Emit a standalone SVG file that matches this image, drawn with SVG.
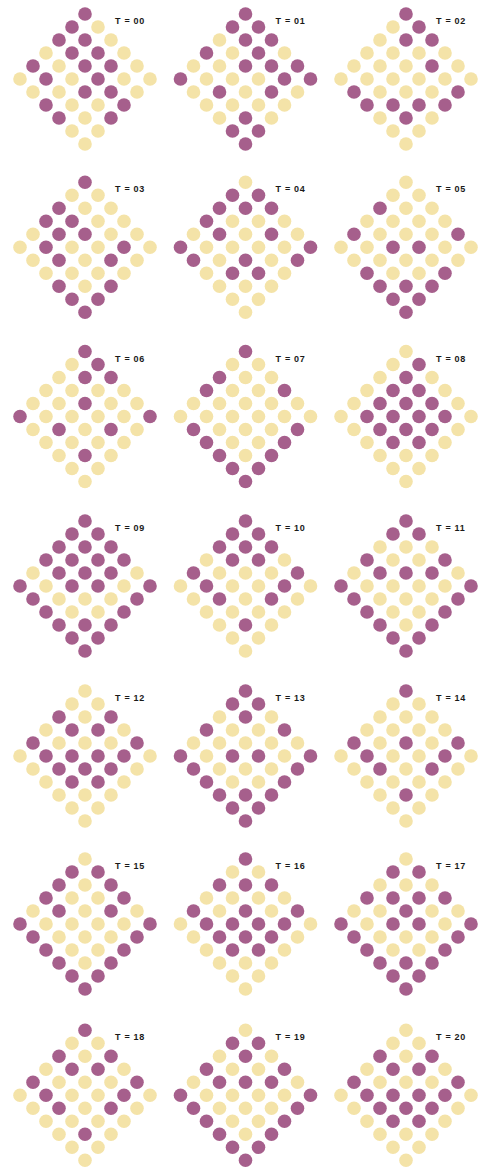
<svg xmlns="http://www.w3.org/2000/svg" xmlns:xlink="http://www.w3.org/1999/xlink" width="484" height="1169" viewBox="0 0 484 1169">
<style>
text{font-family:"Liberation Sans",Arial,sans-serif;font-size:9px;font-weight:bold;fill:#1a1a1a;letter-spacing:0.7px}
</style>
<defs>
<circle id="p" r="6.8" fill="#a65f8c"/>
<circle id="y" r="6.8" fill="#f4e3a8"/>
</defs>
<rect width="484" height="1169" fill="#fff"/>

<g id="t00" transform="translate(85,14)">
<use href="#p"/>
<use href="#p" x="-13" y="13"/><use href="#y" x="13" y="13"/>
<use href="#p" x="-26" y="26"/><use href="#p" x="0" y="26"/><use href="#y" x="26" y="26"/>
<use href="#y" x="-39" y="39"/><use href="#p" x="-13" y="39"/><use href="#p" x="13" y="39"/><use href="#y" x="39" y="39"/>
<use href="#p" x="-52" y="52"/><use href="#y" x="-26" y="52"/><use href="#p" x="0" y="52"/><use href="#p" x="26" y="52"/><use href="#y" x="52" y="52"/>
<use href="#y" x="-65" y="65"/><use href="#p" x="-39" y="65"/><use href="#y" x="-13" y="65"/><use href="#p" x="13" y="65"/><use href="#y" x="39" y="65"/><use href="#y" x="65" y="65"/>
<use href="#y" x="-52" y="78"/><use href="#y" x="-26" y="78"/><use href="#p" x="0" y="78"/><use href="#p" x="26" y="78"/><use href="#y" x="52" y="78"/>
<use href="#p" x="-39" y="91"/><use href="#y" x="-13" y="91"/><use href="#y" x="13" y="91"/><use href="#p" x="39" y="91"/>
<use href="#p" x="-26" y="104"/><use href="#y" x="0" y="104"/><use href="#p" x="26" y="104"/>
<use href="#y" x="-13" y="117"/><use href="#y" x="13" y="117"/>
<use href="#y" x="0" y="130"/>
<text x="30" y="10">T = 00</text>
</g>

<g id="t01" transform="translate(245.5,14)">
<use href="#p"/>
<use href="#p" x="-13" y="13"/><use href="#p" x="13" y="13"/>
<use href="#y" x="-26" y="26"/><use href="#p" x="0" y="26"/><use href="#p" x="26" y="26"/>
<use href="#p" x="-39" y="39"/><use href="#y" x="-13" y="39"/><use href="#p" x="13" y="39"/><use href="#y" x="39" y="39"/>
<use href="#y" x="-52" y="52"/><use href="#y" x="-26" y="52"/><use href="#p" x="0" y="52"/><use href="#p" x="26" y="52"/><use href="#p" x="52" y="52"/>
<use href="#p" x="-65" y="65"/><use href="#y" x="-39" y="65"/><use href="#y" x="-13" y="65"/><use href="#y" x="13" y="65"/><use href="#p" x="39" y="65"/><use href="#p" x="65" y="65"/>
<use href="#y" x="-52" y="78"/><use href="#p" x="-26" y="78"/><use href="#y" x="0" y="78"/><use href="#p" x="26" y="78"/><use href="#y" x="52" y="78"/>
<use href="#y" x="-39" y="91"/><use href="#y" x="-13" y="91"/><use href="#y" x="13" y="91"/><use href="#y" x="39" y="91"/>
<use href="#y" x="-26" y="104"/><use href="#p" x="0" y="104"/><use href="#y" x="26" y="104"/>
<use href="#p" x="-13" y="117"/><use href="#p" x="13" y="117"/>
<use href="#p" x="0" y="130"/>
<text x="30" y="10">T = 01</text>
</g>

<g id="t02" transform="translate(406,14)">
<use href="#p"/>
<use href="#y" x="-13" y="13"/><use href="#p" x="13" y="13"/>
<use href="#y" x="-26" y="26"/><use href="#p" x="0" y="26"/><use href="#p" x="26" y="26"/>
<use href="#y" x="-39" y="39"/><use href="#y" x="-13" y="39"/><use href="#y" x="13" y="39"/><use href="#y" x="39" y="39"/>
<use href="#y" x="-52" y="52"/><use href="#y" x="-26" y="52"/><use href="#y" x="0" y="52"/><use href="#p" x="26" y="52"/><use href="#y" x="52" y="52"/>
<use href="#y" x="-65" y="65"/><use href="#y" x="-39" y="65"/><use href="#y" x="-13" y="65"/><use href="#y" x="13" y="65"/><use href="#y" x="39" y="65"/><use href="#y" x="65" y="65"/>
<use href="#p" x="-52" y="78"/><use href="#y" x="-26" y="78"/><use href="#y" x="0" y="78"/><use href="#y" x="26" y="78"/><use href="#p" x="52" y="78"/>
<use href="#p" x="-39" y="91"/><use href="#p" x="-13" y="91"/><use href="#p" x="13" y="91"/><use href="#p" x="39" y="91"/>
<use href="#y" x="-26" y="104"/><use href="#p" x="0" y="104"/><use href="#y" x="26" y="104"/>
<use href="#y" x="-13" y="117"/><use href="#y" x="13" y="117"/>
<use href="#y" x="0" y="130"/>
<text x="30" y="10">T = 02</text>
</g>

<g id="t03" transform="translate(85,182.3)">
<use href="#p"/>
<use href="#y" x="-13" y="13"/><use href="#y" x="13" y="13"/>
<use href="#p" x="-26" y="26"/><use href="#y" x="0" y="26"/><use href="#y" x="26" y="26"/>
<use href="#p" x="-39" y="39"/><use href="#p" x="-13" y="39"/><use href="#y" x="13" y="39"/><use href="#y" x="39" y="39"/>
<use href="#y" x="-52" y="52"/><use href="#p" x="-26" y="52"/><use href="#p" x="0" y="52"/><use href="#y" x="26" y="52"/><use href="#y" x="52" y="52"/>
<use href="#y" x="-65" y="65"/><use href="#p" x="-39" y="65"/><use href="#y" x="-13" y="65"/><use href="#y" x="13" y="65"/><use href="#p" x="39" y="65"/><use href="#y" x="65" y="65"/>
<use href="#y" x="-52" y="78"/><use href="#p" x="-26" y="78"/><use href="#y" x="0" y="78"/><use href="#p" x="26" y="78"/><use href="#y" x="52" y="78"/>
<use href="#y" x="-39" y="91"/><use href="#y" x="-13" y="91"/><use href="#y" x="13" y="91"/><use href="#y" x="39" y="91"/>
<use href="#p" x="-26" y="104"/><use href="#y" x="0" y="104"/><use href="#p" x="26" y="104"/>
<use href="#p" x="-13" y="117"/><use href="#p" x="13" y="117"/>
<use href="#p" x="0" y="130"/>
<text x="30" y="10">T = 03</text>
</g>

<g id="t04" transform="translate(245.5,182.3)">
<use href="#y"/>
<use href="#p" x="-13" y="13"/><use href="#p" x="13" y="13"/>
<use href="#p" x="-26" y="26"/><use href="#p" x="0" y="26"/><use href="#p" x="26" y="26"/>
<use href="#p" x="-39" y="39"/><use href="#y" x="-13" y="39"/><use href="#y" x="13" y="39"/><use href="#y" x="39" y="39"/>
<use href="#y" x="-52" y="52"/><use href="#p" x="-26" y="52"/><use href="#y" x="0" y="52"/><use href="#p" x="26" y="52"/><use href="#y" x="52" y="52"/>
<use href="#p" x="-65" y="65"/><use href="#y" x="-39" y="65"/><use href="#y" x="-13" y="65"/><use href="#y" x="13" y="65"/><use href="#y" x="39" y="65"/><use href="#p" x="65" y="65"/>
<use href="#p" x="-52" y="78"/><use href="#y" x="-26" y="78"/><use href="#p" x="0" y="78"/><use href="#y" x="26" y="78"/><use href="#p" x="52" y="78"/>
<use href="#y" x="-39" y="91"/><use href="#p" x="-13" y="91"/><use href="#p" x="13" y="91"/><use href="#y" x="39" y="91"/>
<use href="#y" x="-26" y="104"/><use href="#y" x="0" y="104"/><use href="#y" x="26" y="104"/>
<use href="#y" x="-13" y="117"/><use href="#y" x="13" y="117"/>
<use href="#y" x="0" y="130"/>
<text x="30" y="10">T = 04</text>
</g>

<g id="t05" transform="translate(406,182.3)">
<use href="#y"/>
<use href="#y" x="-13" y="13"/><use href="#y" x="13" y="13"/>
<use href="#p" x="-26" y="26"/><use href="#y" x="0" y="26"/><use href="#y" x="26" y="26"/>
<use href="#y" x="-39" y="39"/><use href="#y" x="-13" y="39"/><use href="#y" x="13" y="39"/><use href="#y" x="39" y="39"/>
<use href="#p" x="-52" y="52"/><use href="#y" x="-26" y="52"/><use href="#y" x="0" y="52"/><use href="#y" x="26" y="52"/><use href="#p" x="52" y="52"/>
<use href="#y" x="-65" y="65"/><use href="#y" x="-39" y="65"/><use href="#p" x="-13" y="65"/><use href="#p" x="13" y="65"/><use href="#y" x="39" y="65"/><use href="#y" x="65" y="65"/>
<use href="#y" x="-52" y="78"/><use href="#y" x="-26" y="78"/><use href="#y" x="0" y="78"/><use href="#y" x="26" y="78"/><use href="#y" x="52" y="78"/>
<use href="#p" x="-39" y="91"/><use href="#y" x="-13" y="91"/><use href="#y" x="13" y="91"/><use href="#p" x="39" y="91"/>
<use href="#p" x="-26" y="104"/><use href="#p" x="0" y="104"/><use href="#p" x="26" y="104"/>
<use href="#p" x="-13" y="117"/><use href="#p" x="13" y="117"/>
<use href="#p" x="0" y="130"/>
<text x="30" y="10">T = 05</text>
</g>

<g id="t06" transform="translate(85,351.5)">
<use href="#p"/>
<use href="#y" x="-13" y="13"/><use href="#p" x="13" y="13"/>
<use href="#y" x="-26" y="26"/><use href="#p" x="0" y="26"/><use href="#p" x="26" y="26"/>
<use href="#y" x="-39" y="39"/><use href="#y" x="-13" y="39"/><use href="#y" x="13" y="39"/><use href="#y" x="39" y="39"/>
<use href="#y" x="-52" y="52"/><use href="#y" x="-26" y="52"/><use href="#p" x="0" y="52"/><use href="#y" x="26" y="52"/><use href="#y" x="52" y="52"/>
<use href="#p" x="-65" y="65"/><use href="#y" x="-39" y="65"/><use href="#y" x="-13" y="65"/><use href="#y" x="13" y="65"/><use href="#y" x="39" y="65"/><use href="#p" x="65" y="65"/>
<use href="#y" x="-52" y="78"/><use href="#p" x="-26" y="78"/><use href="#y" x="0" y="78"/><use href="#p" x="26" y="78"/><use href="#y" x="52" y="78"/>
<use href="#y" x="-39" y="91"/><use href="#y" x="-13" y="91"/><use href="#y" x="13" y="91"/><use href="#y" x="39" y="91"/>
<use href="#y" x="-26" y="104"/><use href="#p" x="0" y="104"/><use href="#y" x="26" y="104"/>
<use href="#y" x="-13" y="117"/><use href="#y" x="13" y="117"/>
<use href="#y" x="0" y="130"/>
<text x="30" y="10">T = 06</text>
</g>

<g id="t07" transform="translate(245.5,351.5)">
<use href="#p"/>
<use href="#y" x="-13" y="13"/><use href="#y" x="13" y="13"/>
<use href="#p" x="-26" y="26"/><use href="#y" x="0" y="26"/><use href="#y" x="26" y="26"/>
<use href="#p" x="-39" y="39"/><use href="#y" x="-13" y="39"/><use href="#y" x="13" y="39"/><use href="#p" x="39" y="39"/>
<use href="#y" x="-52" y="52"/><use href="#y" x="-26" y="52"/><use href="#y" x="0" y="52"/><use href="#y" x="26" y="52"/><use href="#y" x="52" y="52"/>
<use href="#y" x="-65" y="65"/><use href="#y" x="-39" y="65"/><use href="#y" x="-13" y="65"/><use href="#y" x="13" y="65"/><use href="#y" x="39" y="65"/><use href="#y" x="65" y="65"/>
<use href="#p" x="-52" y="78"/><use href="#y" x="-26" y="78"/><use href="#y" x="0" y="78"/><use href="#y" x="26" y="78"/><use href="#p" x="52" y="78"/>
<use href="#p" x="-39" y="91"/><use href="#y" x="-13" y="91"/><use href="#y" x="13" y="91"/><use href="#p" x="39" y="91"/>
<use href="#p" x="-26" y="104"/><use href="#y" x="0" y="104"/><use href="#p" x="26" y="104"/>
<use href="#p" x="-13" y="117"/><use href="#p" x="13" y="117"/>
<use href="#p" x="0" y="130"/>
<text x="30" y="10">T = 07</text>
</g>

<g id="t08" transform="translate(406,351.5)">
<use href="#y"/>
<use href="#y" x="-13" y="13"/><use href="#p" x="13" y="13"/>
<use href="#y" x="-26" y="26"/><use href="#p" x="0" y="26"/><use href="#y" x="26" y="26"/>
<use href="#y" x="-39" y="39"/><use href="#p" x="-13" y="39"/><use href="#p" x="13" y="39"/><use href="#y" x="39" y="39"/>
<use href="#y" x="-52" y="52"/><use href="#p" x="-26" y="52"/><use href="#p" x="0" y="52"/><use href="#p" x="26" y="52"/><use href="#y" x="52" y="52"/>
<use href="#y" x="-65" y="65"/><use href="#p" x="-39" y="65"/><use href="#p" x="-13" y="65"/><use href="#p" x="13" y="65"/><use href="#p" x="39" y="65"/><use href="#y" x="65" y="65"/>
<use href="#y" x="-52" y="78"/><use href="#p" x="-26" y="78"/><use href="#p" x="0" y="78"/><use href="#p" x="26" y="78"/><use href="#y" x="52" y="78"/>
<use href="#y" x="-39" y="91"/><use href="#p" x="-13" y="91"/><use href="#p" x="13" y="91"/><use href="#y" x="39" y="91"/>
<use href="#y" x="-26" y="104"/><use href="#y" x="0" y="104"/><use href="#y" x="26" y="104"/>
<use href="#y" x="-13" y="117"/><use href="#y" x="13" y="117"/>
<use href="#y" x="0" y="130"/>
<text x="30" y="10">T = 08</text>
</g>

<g id="t09" transform="translate(85,521)">
<use href="#p"/>
<use href="#p" x="-13" y="13"/><use href="#p" x="13" y="13"/>
<use href="#p" x="-26" y="26"/><use href="#p" x="0" y="26"/><use href="#p" x="26" y="26"/>
<use href="#p" x="-39" y="39"/><use href="#p" x="-13" y="39"/><use href="#p" x="13" y="39"/><use href="#p" x="39" y="39"/>
<use href="#y" x="-52" y="52"/><use href="#p" x="-26" y="52"/><use href="#p" x="0" y="52"/><use href="#p" x="26" y="52"/><use href="#y" x="52" y="52"/>
<use href="#p" x="-65" y="65"/><use href="#y" x="-39" y="65"/><use href="#p" x="-13" y="65"/><use href="#p" x="13" y="65"/><use href="#y" x="39" y="65"/><use href="#p" x="65" y="65"/>
<use href="#p" x="-52" y="78"/><use href="#y" x="-26" y="78"/><use href="#y" x="0" y="78"/><use href="#y" x="26" y="78"/><use href="#p" x="52" y="78"/>
<use href="#p" x="-39" y="91"/><use href="#y" x="-13" y="91"/><use href="#y" x="13" y="91"/><use href="#p" x="39" y="91"/>
<use href="#p" x="-26" y="104"/><use href="#p" x="0" y="104"/><use href="#p" x="26" y="104"/>
<use href="#p" x="-13" y="117"/><use href="#p" x="13" y="117"/>
<use href="#p" x="0" y="130"/>
<text x="30" y="10">T = 09</text>
</g>

<g id="t10" transform="translate(245.5,521)">
<use href="#p"/>
<use href="#p" x="-13" y="13"/><use href="#p" x="13" y="13"/>
<use href="#p" x="-26" y="26"/><use href="#p" x="0" y="26"/><use href="#p" x="26" y="26"/>
<use href="#y" x="-39" y="39"/><use href="#p" x="-13" y="39"/><use href="#p" x="13" y="39"/><use href="#y" x="39" y="39"/>
<use href="#p" x="-52" y="52"/><use href="#y" x="-26" y="52"/><use href="#y" x="0" y="52"/><use href="#y" x="26" y="52"/><use href="#p" x="52" y="52"/>
<use href="#y" x="-65" y="65"/><use href="#p" x="-39" y="65"/><use href="#y" x="-13" y="65"/><use href="#y" x="13" y="65"/><use href="#p" x="39" y="65"/><use href="#y" x="65" y="65"/>
<use href="#y" x="-52" y="78"/><use href="#p" x="-26" y="78"/><use href="#y" x="0" y="78"/><use href="#p" x="26" y="78"/><use href="#y" x="52" y="78"/>
<use href="#y" x="-39" y="91"/><use href="#y" x="-13" y="91"/><use href="#y" x="13" y="91"/><use href="#y" x="39" y="91"/>
<use href="#y" x="-26" y="104"/><use href="#p" x="0" y="104"/><use href="#y" x="26" y="104"/>
<use href="#y" x="-13" y="117"/><use href="#y" x="13" y="117"/>
<use href="#y" x="0" y="130"/>
<text x="30" y="10">T = 10</text>
</g>

<g id="t11" transform="translate(406,521)">
<use href="#p"/>
<use href="#p" x="-13" y="13"/><use href="#p" x="13" y="13"/>
<use href="#y" x="-26" y="26"/><use href="#y" x="0" y="26"/><use href="#y" x="26" y="26"/>
<use href="#p" x="-39" y="39"/><use href="#y" x="-13" y="39"/><use href="#y" x="13" y="39"/><use href="#p" x="39" y="39"/>
<use href="#y" x="-52" y="52"/><use href="#p" x="-26" y="52"/><use href="#p" x="0" y="52"/><use href="#p" x="26" y="52"/><use href="#y" x="52" y="52"/>
<use href="#p" x="-65" y="65"/><use href="#y" x="-39" y="65"/><use href="#y" x="-13" y="65"/><use href="#y" x="13" y="65"/><use href="#y" x="39" y="65"/><use href="#p" x="65" y="65"/>
<use href="#p" x="-52" y="78"/><use href="#y" x="-26" y="78"/><use href="#y" x="0" y="78"/><use href="#y" x="26" y="78"/><use href="#p" x="52" y="78"/>
<use href="#p" x="-39" y="91"/><use href="#y" x="-13" y="91"/><use href="#y" x="13" y="91"/><use href="#p" x="39" y="91"/>
<use href="#p" x="-26" y="104"/><use href="#y" x="0" y="104"/><use href="#p" x="26" y="104"/>
<use href="#p" x="-13" y="117"/><use href="#p" x="13" y="117"/>
<use href="#p" x="0" y="130"/>
<text x="30" y="10">T = 11</text>
</g>

<g id="t12" transform="translate(85,691)">
<use href="#y"/>
<use href="#y" x="-13" y="13"/><use href="#y" x="13" y="13"/>
<use href="#p" x="-26" y="26"/><use href="#y" x="0" y="26"/><use href="#p" x="26" y="26"/>
<use href="#y" x="-39" y="39"/><use href="#p" x="-13" y="39"/><use href="#p" x="13" y="39"/><use href="#y" x="39" y="39"/>
<use href="#p" x="-52" y="52"/><use href="#y" x="-26" y="52"/><use href="#y" x="0" y="52"/><use href="#y" x="26" y="52"/><use href="#p" x="52" y="52"/>
<use href="#y" x="-65" y="65"/><use href="#p" x="-39" y="65"/><use href="#p" x="-13" y="65"/><use href="#p" x="13" y="65"/><use href="#p" x="39" y="65"/><use href="#y" x="65" y="65"/>
<use href="#y" x="-52" y="78"/><use href="#p" x="-26" y="78"/><use href="#p" x="0" y="78"/><use href="#p" x="26" y="78"/><use href="#y" x="52" y="78"/>
<use href="#y" x="-39" y="91"/><use href="#p" x="-13" y="91"/><use href="#p" x="13" y="91"/><use href="#y" x="39" y="91"/>
<use href="#y" x="-26" y="104"/><use href="#y" x="0" y="104"/><use href="#y" x="26" y="104"/>
<use href="#y" x="-13" y="117"/><use href="#y" x="13" y="117"/>
<use href="#y" x="0" y="130"/>
<text x="30" y="10">T = 12</text>
</g>

<g id="t13" transform="translate(245.5,691)">
<use href="#p"/>
<use href="#p" x="-13" y="13"/><use href="#p" x="13" y="13"/>
<use href="#y" x="-26" y="26"/><use href="#p" x="0" y="26"/><use href="#y" x="26" y="26"/>
<use href="#p" x="-39" y="39"/><use href="#y" x="-13" y="39"/><use href="#y" x="13" y="39"/><use href="#p" x="39" y="39"/>
<use href="#y" x="-52" y="52"/><use href="#y" x="-26" y="52"/><use href="#y" x="0" y="52"/><use href="#y" x="26" y="52"/><use href="#y" x="52" y="52"/>
<use href="#p" x="-65" y="65"/><use href="#y" x="-39" y="65"/><use href="#p" x="-13" y="65"/><use href="#p" x="13" y="65"/><use href="#y" x="39" y="65"/><use href="#p" x="65" y="65"/>
<use href="#p" x="-52" y="78"/><use href="#y" x="-26" y="78"/><use href="#y" x="0" y="78"/><use href="#y" x="26" y="78"/><use href="#p" x="52" y="78"/>
<use href="#p" x="-39" y="91"/><use href="#y" x="-13" y="91"/><use href="#y" x="13" y="91"/><use href="#p" x="39" y="91"/>
<use href="#p" x="-26" y="104"/><use href="#p" x="0" y="104"/><use href="#p" x="26" y="104"/>
<use href="#p" x="-13" y="117"/><use href="#p" x="13" y="117"/>
<use href="#p" x="0" y="130"/>
<text x="30" y="10">T = 13</text>
</g>

<g id="t14" transform="translate(406,691)">
<use href="#p"/>
<use href="#y" x="-13" y="13"/><use href="#y" x="13" y="13"/>
<use href="#y" x="-26" y="26"/><use href="#y" x="0" y="26"/><use href="#y" x="26" y="26"/>
<use href="#y" x="-39" y="39"/><use href="#y" x="-13" y="39"/><use href="#y" x="13" y="39"/><use href="#y" x="39" y="39"/>
<use href="#p" x="-52" y="52"/><use href="#y" x="-26" y="52"/><use href="#p" x="0" y="52"/><use href="#y" x="26" y="52"/><use href="#p" x="52" y="52"/>
<use href="#y" x="-65" y="65"/><use href="#p" x="-39" y="65"/><use href="#y" x="-13" y="65"/><use href="#y" x="13" y="65"/><use href="#p" x="39" y="65"/><use href="#y" x="65" y="65"/>
<use href="#y" x="-52" y="78"/><use href="#p" x="-26" y="78"/><use href="#y" x="0" y="78"/><use href="#p" x="26" y="78"/><use href="#y" x="52" y="78"/>
<use href="#y" x="-39" y="91"/><use href="#y" x="-13" y="91"/><use href="#y" x="13" y="91"/><use href="#y" x="39" y="91"/>
<use href="#y" x="-26" y="104"/><use href="#p" x="0" y="104"/><use href="#y" x="26" y="104"/>
<use href="#y" x="-13" y="117"/><use href="#y" x="13" y="117"/>
<use href="#y" x="0" y="130"/>
<text x="30" y="10">T = 14</text>
</g>

<g id="t15" transform="translate(85,859)">
<use href="#y"/>
<use href="#p" x="-13" y="13"/><use href="#p" x="13" y="13"/>
<use href="#p" x="-26" y="26"/><use href="#y" x="0" y="26"/><use href="#p" x="26" y="26"/>
<use href="#p" x="-39" y="39"/><use href="#y" x="-13" y="39"/><use href="#y" x="13" y="39"/><use href="#p" x="39" y="39"/>
<use href="#y" x="-52" y="52"/><use href="#p" x="-26" y="52"/><use href="#y" x="0" y="52"/><use href="#p" x="26" y="52"/><use href="#y" x="52" y="52"/>
<use href="#p" x="-65" y="65"/><use href="#y" x="-39" y="65"/><use href="#y" x="-13" y="65"/><use href="#y" x="13" y="65"/><use href="#y" x="39" y="65"/><use href="#p" x="65" y="65"/>
<use href="#p" x="-52" y="78"/><use href="#y" x="-26" y="78"/><use href="#y" x="0" y="78"/><use href="#y" x="26" y="78"/><use href="#p" x="52" y="78"/>
<use href="#p" x="-39" y="91"/><use href="#y" x="-13" y="91"/><use href="#y" x="13" y="91"/><use href="#p" x="39" y="91"/>
<use href="#p" x="-26" y="104"/><use href="#y" x="0" y="104"/><use href="#p" x="26" y="104"/>
<use href="#p" x="-13" y="117"/><use href="#p" x="13" y="117"/>
<use href="#p" x="0" y="130"/>
<text x="30" y="10">T = 15</text>
</g>

<g id="t16" transform="translate(245.5,859)">
<use href="#p"/>
<use href="#y" x="-13" y="13"/><use href="#y" x="13" y="13"/>
<use href="#p" x="-26" y="26"/><use href="#p" x="0" y="26"/><use href="#p" x="26" y="26"/>
<use href="#y" x="-39" y="39"/><use href="#y" x="-13" y="39"/><use href="#y" x="13" y="39"/><use href="#y" x="39" y="39"/>
<use href="#p" x="-52" y="52"/><use href="#y" x="-26" y="52"/><use href="#p" x="0" y="52"/><use href="#y" x="26" y="52"/><use href="#p" x="52" y="52"/>
<use href="#y" x="-65" y="65"/><use href="#p" x="-39" y="65"/><use href="#p" x="-13" y="65"/><use href="#p" x="13" y="65"/><use href="#p" x="39" y="65"/><use href="#y" x="65" y="65"/>
<use href="#y" x="-52" y="78"/><use href="#p" x="-26" y="78"/><use href="#p" x="0" y="78"/><use href="#p" x="26" y="78"/><use href="#y" x="52" y="78"/>
<use href="#y" x="-39" y="91"/><use href="#p" x="-13" y="91"/><use href="#p" x="13" y="91"/><use href="#y" x="39" y="91"/>
<use href="#y" x="-26" y="104"/><use href="#y" x="0" y="104"/><use href="#y" x="26" y="104"/>
<use href="#y" x="-13" y="117"/><use href="#y" x="13" y="117"/>
<use href="#y" x="0" y="130"/>
<text x="30" y="10">T = 16</text>
</g>

<g id="t17" transform="translate(406,859)">
<use href="#y"/>
<use href="#p" x="-13" y="13"/><use href="#p" x="13" y="13"/>
<use href="#y" x="-26" y="26"/><use href="#y" x="0" y="26"/><use href="#y" x="26" y="26"/>
<use href="#p" x="-39" y="39"/><use href="#p" x="-13" y="39"/><use href="#p" x="13" y="39"/><use href="#p" x="39" y="39"/>
<use href="#y" x="-52" y="52"/><use href="#y" x="-26" y="52"/><use href="#p" x="0" y="52"/><use href="#y" x="26" y="52"/><use href="#y" x="52" y="52"/>
<use href="#p" x="-65" y="65"/><use href="#y" x="-39" y="65"/><use href="#p" x="-13" y="65"/><use href="#p" x="13" y="65"/><use href="#y" x="39" y="65"/><use href="#p" x="65" y="65"/>
<use href="#p" x="-52" y="78"/><use href="#y" x="-26" y="78"/><use href="#y" x="0" y="78"/><use href="#y" x="26" y="78"/><use href="#p" x="52" y="78"/>
<use href="#p" x="-39" y="91"/><use href="#y" x="-13" y="91"/><use href="#y" x="13" y="91"/><use href="#p" x="39" y="91"/>
<use href="#p" x="-26" y="104"/><use href="#p" x="0" y="104"/><use href="#p" x="26" y="104"/>
<use href="#p" x="-13" y="117"/><use href="#p" x="13" y="117"/>
<use href="#p" x="0" y="130"/>
<text x="30" y="10">T = 17</text>
</g>

<g id="t18" transform="translate(85,1030.3)">
<use href="#p"/>
<use href="#y" x="-13" y="13"/><use href="#y" x="13" y="13"/>
<use href="#p" x="-26" y="26"/><use href="#y" x="0" y="26"/><use href="#p" x="26" y="26"/>
<use href="#y" x="-39" y="39"/><use href="#p" x="-13" y="39"/><use href="#p" x="13" y="39"/><use href="#y" x="39" y="39"/>
<use href="#p" x="-52" y="52"/><use href="#y" x="-26" y="52"/><use href="#y" x="0" y="52"/><use href="#y" x="26" y="52"/><use href="#p" x="52" y="52"/>
<use href="#y" x="-65" y="65"/><use href="#p" x="-39" y="65"/><use href="#y" x="-13" y="65"/><use href="#y" x="13" y="65"/><use href="#p" x="39" y="65"/><use href="#y" x="65" y="65"/>
<use href="#y" x="-52" y="78"/><use href="#p" x="-26" y="78"/><use href="#y" x="0" y="78"/><use href="#p" x="26" y="78"/><use href="#y" x="52" y="78"/>
<use href="#y" x="-39" y="91"/><use href="#y" x="-13" y="91"/><use href="#y" x="13" y="91"/><use href="#y" x="39" y="91"/>
<use href="#y" x="-26" y="104"/><use href="#p" x="0" y="104"/><use href="#y" x="26" y="104"/>
<use href="#y" x="-13" y="117"/><use href="#y" x="13" y="117"/>
<use href="#y" x="0" y="130"/>
<text x="30" y="10">T = 18</text>
</g>

<g id="t19" transform="translate(245.5,1030.3)">
<use href="#y"/>
<use href="#p" x="-13" y="13"/><use href="#p" x="13" y="13"/>
<use href="#y" x="-26" y="26"/><use href="#p" x="0" y="26"/><use href="#y" x="26" y="26"/>
<use href="#p" x="-39" y="39"/><use href="#y" x="-13" y="39"/><use href="#y" x="13" y="39"/><use href="#p" x="39" y="39"/>
<use href="#y" x="-52" y="52"/><use href="#p" x="-26" y="52"/><use href="#p" x="0" y="52"/><use href="#p" x="26" y="52"/><use href="#y" x="52" y="52"/>
<use href="#p" x="-65" y="65"/><use href="#y" x="-39" y="65"/><use href="#y" x="-13" y="65"/><use href="#y" x="13" y="65"/><use href="#y" x="39" y="65"/><use href="#p" x="65" y="65"/>
<use href="#p" x="-52" y="78"/><use href="#y" x="-26" y="78"/><use href="#y" x="0" y="78"/><use href="#y" x="26" y="78"/><use href="#p" x="52" y="78"/>
<use href="#p" x="-39" y="91"/><use href="#y" x="-13" y="91"/><use href="#y" x="13" y="91"/><use href="#p" x="39" y="91"/>
<use href="#p" x="-26" y="104"/><use href="#y" x="0" y="104"/><use href="#p" x="26" y="104"/>
<use href="#p" x="-13" y="117"/><use href="#p" x="13" y="117"/>
<use href="#p" x="0" y="130"/>
<text x="30" y="10">T = 19</text>
</g>

<g id="t20" transform="translate(406,1030.3)">
<use href="#y"/>
<use href="#y" x="-13" y="13"/><use href="#y" x="13" y="13"/>
<use href="#p" x="-26" y="26"/><use href="#y" x="0" y="26"/><use href="#p" x="26" y="26"/>
<use href="#y" x="-39" y="39"/><use href="#p" x="-13" y="39"/><use href="#p" x="13" y="39"/><use href="#y" x="39" y="39"/>
<use href="#p" x="-52" y="52"/><use href="#y" x="-26" y="52"/><use href="#y" x="0" y="52"/><use href="#y" x="26" y="52"/><use href="#p" x="52" y="52"/>
<use href="#y" x="-65" y="65"/><use href="#p" x="-39" y="65"/><use href="#p" x="-13" y="65"/><use href="#p" x="13" y="65"/><use href="#p" x="39" y="65"/><use href="#y" x="65" y="65"/>
<use href="#y" x="-52" y="78"/><use href="#p" x="-26" y="78"/><use href="#p" x="0" y="78"/><use href="#p" x="26" y="78"/><use href="#y" x="52" y="78"/>
<use href="#y" x="-39" y="91"/><use href="#p" x="-13" y="91"/><use href="#p" x="13" y="91"/><use href="#y" x="39" y="91"/>
<use href="#y" x="-26" y="104"/><use href="#y" x="0" y="104"/><use href="#y" x="26" y="104"/>
<use href="#y" x="-13" y="117"/><use href="#y" x="13" y="117"/>
<use href="#y" x="0" y="130"/>
<text x="30" y="10">T = 20</text>
</g>
</svg>
